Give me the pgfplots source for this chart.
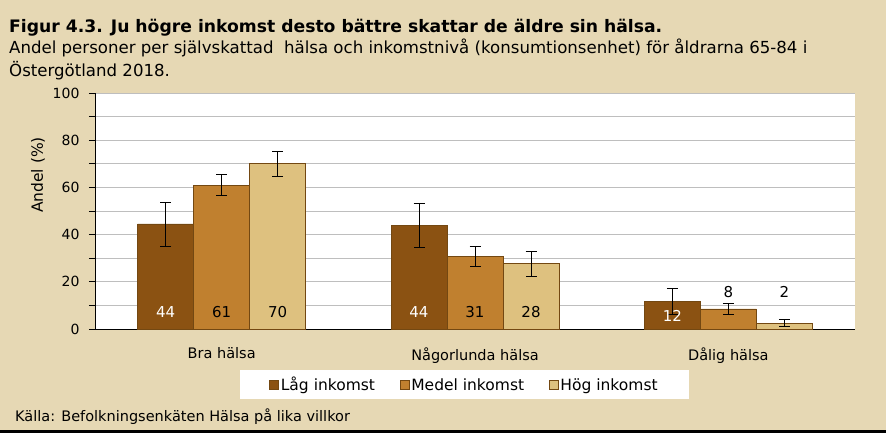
\documentclass[border=0pt]{standalone}
\usepackage{fontspec}
\setmainfont{DejaVu Sans}
\usepackage{pgfplots}
\pgfplotsset{compat=1.18}
\usepackage{pgfplotstable}

% x = category, y = bar value, e = error, lab = printed label, ly = label height
\pgfplotstableread{
x y e lab ly
0 44.5 9.3 44 7.2
1 44.0 9.4 44 7.2
2 11.5 5.5 12 5.5
}\low
\pgfplotstableread{
x y e lab ly
0 61.0 4.6 61 7.2
1 30.8 4.2 31 7.2
2 8.5 2.5 8 15.7
}\mid
\pgfplotstableread{
x y e lab ly
0 70.0 5.2 70 7.2
1 27.7 5.2 28 7.2
2 2.5 1.6 2 15.7
}\high

\definecolor{bg}{RGB}{230,216,180}
\definecolor{lowc}{RGB}{139,82,18}
\definecolor{midc}{RGB}{192,128,47}
\definecolor{highc}{RGB}{222,193,127}
\definecolor{edge}{RGB}{115,72,18}
\definecolor{gridc}{RGB}{190,190,190}

\newcommand{\fs}[1]{\fontsize{#1}{#1}\selectfont}

\begin{document}
\begin{tikzpicture}[x=1pt,y=1pt]
\fill[bg] (0,0) rectangle (886,-433);
\useasboundingbox (0,0) rectangle (886,-433);
\fill[black] (0,-430) rectangle (886,-433);

\node[anchor=base west, inner sep=0, font=\bfseries\fs{17.2}] at (9,-33)
  {Figur 4.3. Ju högre inkomst desto bättre skattar de äldre sin hälsa.};
\node[anchor=base west, inner sep=0, font=\fs{16.6}] at (9,-54)
  {Andel personer per självskattad\ \ hälsa och inkomstnivå (konsumtionsenhet) för åldrarna 65-84 i};
\node[anchor=base west, inner sep=0, font=\fs{16.6}] at (9,-77)
  {Östergötland 2018.};
\node[anchor=base west, inner sep=0, font=\fs{14.5}] at (15,-421)
  {Källa: Befolkningsenkäten Hälsa på lika villkor};

\begin{axis}[
    at={(95pt,-329pt)}, anchor=south west,
    scale only axis, width=760pt, height=236pt,
    ybar=0pt, bar width=56pt,
    xmin=-0.5, xmax=2.5, ymin=0, ymax=100,
    axis background/.style={fill=white},
    axis x line=bottom, axis y line=left,
    axis line style={-, black, line width=0.8pt},
    xtick={0,1,2},
    xticklabels={Bra hälsa, Någorlunda hälsa, Dålig hälsa},
    major x tick style={draw=none},
    xticklabel style={font=\fs{14.5}, yshift=-9pt},
    ytick={0,20,...,100}, minor ytick={10,30,...,90},
    tick align=outside, major tick length=6pt, minor tick length=6pt,
    every tick/.style={black, line width=0.8pt},
    yticklabel style={font=\fs{14}, xshift=-6pt},
    /pgf/number format/assume math mode=true,
    ymajorgrids, yminorgrids,
    major grid style={draw=gridc, line width=0.8pt},
    minor grid style={draw=gridc, line width=0.8pt},
    ylabel={Andel (\%)},
    ylabel style={font=\fs{15.5}, at={(axis description cs:-0.075,0.653)}, anchor=center},
    legend columns=3,
    legend style={at={(0.486,-0.237)}, anchor=center, draw=none, fill=white,
        font=\fs{15.5}, inner xsep=29.5pt, inner ysep=5pt,
        /tikz/every even column/.append style={column sep=22.5pt}},
    legend image code/.code={\draw[#1] (0pt,-4.5pt) rectangle (9pt,4.5pt);},
    nodes near coords,
    point meta=explicit symbolic,
    visualization depends on={y \as \rawy},
    visualization depends on={\thisrow{ly} \as \labely},
    error bars/error bar style={black, line width=0.8pt},
    error bars/error mark options={black, line width=0.8pt, mark size=5.5pt, rotate=90},
]
\addplot[fill=lowc, draw=edge, line width=0.8pt,
    nodes near coords style={anchor=center, text=white, font=\fs{15},
        yshift=(\labely-\rawy)*2.36pt},
    error bars/.cd, y dir=both, y explicit]
    table[x=x, y=y, y error=e, meta=lab] {\low};
\addlegendentry{Låg inkomst}
\addplot[fill=midc, draw=edge, line width=0.8pt,
    nodes near coords style={anchor=center, text=black, font=\fs{15},
        yshift=(\labely-\rawy)*2.36pt},
    error bars/.cd, y dir=both, y explicit]
    table[x=x, y=y, y error=e, meta=lab] {\mid};
\addlegendentry{Medel inkomst}
\addplot[fill=highc, draw=edge, line width=0.8pt,
    nodes near coords style={anchor=center, text=black, font=\fs{15},
        yshift=(\labely-\rawy)*2.36pt},
    error bars/.cd, y dir=both, y explicit]
    table[x=x, y=y, y error=e, meta=lab] {\high};
\addlegendentry{Hög inkomst}
\end{axis}
\end{tikzpicture}
\end{document}
